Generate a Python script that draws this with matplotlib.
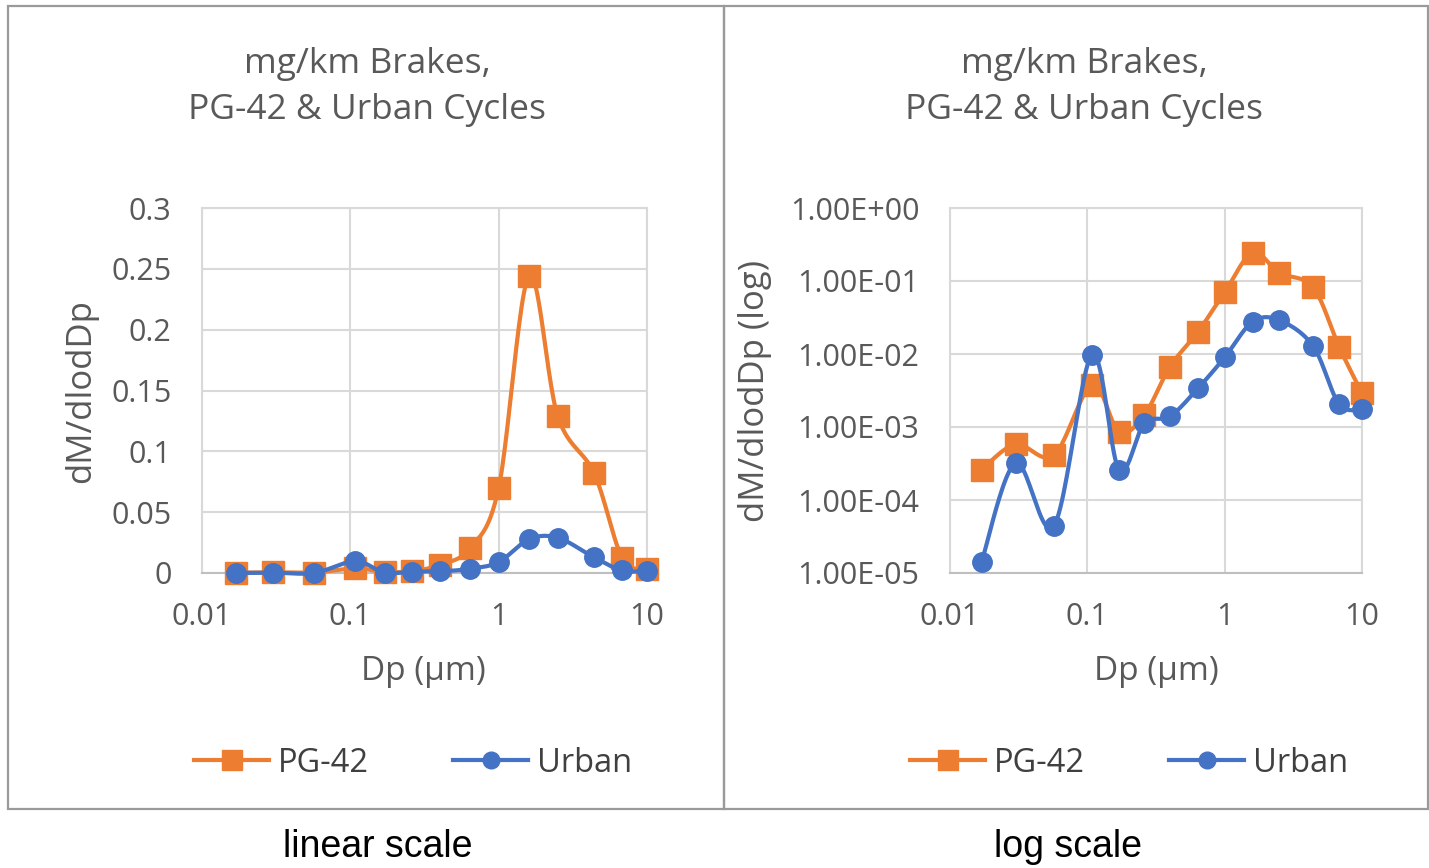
import numpy as np
import matplotlib
matplotlib.use("Agg")
import matplotlib.pyplot as plt
from matplotlib.patches import Rectangle
from matplotlib.lines import Line2D

# ---------------- data ----------------
dp = [0.017, 0.030, 0.057, 0.108, 0.17, 0.26, 0.40, 0.64, 1.0, 1.6, 2.5, 4.4, 6.8, 10.0]
pg42 = [2.6e-4, 5.8e-4, 4.1e-4, 3.8e-3, 8.6e-4, 1.46e-3, 6.7e-3, 2.02e-2, 7.0e-2, 0.244, 0.129, 0.082, 1.26e-2, 2.9e-3]
urban = [1.43e-5, 3.2e-4, 4.4e-5, 9.7e-3, 2.6e-4, 1.12e-3, 1.4e-3, 3.4e-3, 9.0e-3, 2.77e-2, 2.9e-2, 1.29e-2, 2.07e-3, 1.75e-3]
series_names = ["PG-42", "Urban"]
lin_yticks = [0, 0.05, 0.1, 0.15, 0.2, 0.25, 0.3]
lin_yticklabels = ["0", "0.05", "0.1", "0.15", "0.2", "0.25", "0.3"]
log_yticks = [1e-5, 1e-4, 1e-3, 1e-2, 1e-1, 1e0]
log_yticklabels = ["1.00E-05", "1.00E-04", "1.00E-03", "1.00E-02", "1.00E-01", "1.00E+00"]
xticks = [0.01, 0.1, 1, 10]
xticklabels = ["0.01", "0.1", "1", "10"]
title = "mg/km Brakes,\nPG-42 & Urban Cycles"

ORANGE = "#ED7D31"
BLUE = "#4472C4"
GRAY = "#595959"
GRID = "#D9D9D9"
FONT = ["Open Sans", "DejaVu Sans"]

plt.rcParams["font.family"] = FONT

W, H = 1429, 868
fig = plt.figure(figsize=(W / 100, H / 100), dpi=100)


def catmull(u, v, n=24):
    u = np.asarray(u, float)
    v = np.asarray(v, float)
    P = np.column_stack([u, v])
    P = np.vstack([P[0], P, P[-1]])
    out = []
    for i in range(1, len(P) - 2):
        p0, p1, p2, p3 = P[i - 1], P[i], P[i + 1], P[i + 2]
        c1 = p1 + (p2 - p0) / 6.0
        c2 = p2 - (p3 - p1) / 6.0
        t = np.linspace(0, 1, n, endpoint=(i == len(P) - 3))[:, None]
        seg = ((1 - t) ** 3) * p1 + 3 * ((1 - t) ** 2) * t * c1 + 3 * (1 - t) * t ** 2 * c2 + t ** 3 * p2
        out.append(seg)
    out = np.vstack(out)
    return out[:, 0], out[:, 1]


def smooth_line(ax, x, y, logy, **kw):
    lx = np.log10(x)
    yy = np.log10(y) if logy else np.asarray(y)
    su, sv = catmull(lx, yy)
    sx = 10 ** su
    sy = 10 ** sv if logy else sv
    ax.plot(sx, sy, **kw)


def fx(px):
    return px / W


def fy(py):
    return 1 - py / H


def setup(ax, logy):
    ax.set_xscale("log")
    ax.set_xlim(0.01, 10)
    if logy:
        ax.set_yscale("log")
        ax.set_ylim(1e-5, 1)
        ax.set_yticks(log_yticks)
        ax.set_yticklabels(log_yticklabels)
    else:
        ax.set_ylim(0, 0.3)
        ax.set_yticks(lin_yticks)
        ax.set_yticklabels(lin_yticklabels)
    ax.minorticks_off()
    ax.set_xticks(xticks)
    ax.set_xticklabels(xticklabels)
    ax.tick_params(length=0, labelsize=22, labelcolor=GRAY)
    ax.tick_params(axis="x", pad=21)
    ax.tick_params(axis="y", pad=22)
    ax.grid(True, color=GRID, lw=1.5)
    ax.set_axisbelow(True)
    for s in ax.spines.values():
        s.set_color(GRID)
        s.set_linewidth(1.5)
    ax.spines["bottom"].set_color("#BFBFBF")


def draw(ax, logy):
    smooth_line(ax, dp, pg42, logy, color=ORANGE, lw=3, solid_capstyle="round", zorder=3, clip_on=False)
    ax.plot(dp, pg42, ls="none", marker="s", ms=16, color=ORANGE, zorder=4, clip_on=False)
    smooth_line(ax, dp, urban, logy, color=BLUE, lw=3, solid_capstyle="round", zorder=5, clip_on=False)
    ax.plot(dp, urban, ls="none", marker="o", ms=14, color=BLUE, zorder=6, clip_on=False)


# panel borders
fig.add_artist(Rectangle((fx(8), fy(809)), fx(724) - fx(8), fy(6) - fy(809), transform=fig.transFigure,
                         fill=False, ec="#9A9A9A", lw=1.6))
fig.add_artist(Rectangle((fx(724), fy(809)), fx(1428) - fx(724), fy(6) - fy(809), transform=fig.transFigure,
                         fill=False, ec="#9A9A9A", lw=1.6))

# axes
ax1 = fig.add_axes([fx(202), fy(573), fx(647) - fx(202), fy(208) - fy(573)])
ax2 = fig.add_axes([fx(950), fy(573), fx(1362) - fx(950), fy(208) - fy(573)])
setup(ax1, False)
setup(ax2, True)
draw(ax1, False)
draw(ax2, True)

# titles
for cx in (367, 1084):
    fig.text(fx(cx), fy(87), title, ha="center", va="center", fontsize=25.5, color=GRAY, linespacing=1.45)

# axis labels
fig.text(fx(423), fy(672), "Dp (µm)", ha="center", va="center", fontsize=24, color=GRAY)
fig.text(fx(1156), fy(672), "Dp (µm)", ha="center", va="center", fontsize=24, color=GRAY)
fig.text(fx(81), fy(391), "dM/dlodDp", ha="center", va="center", rotation=90, fontsize=25, color=GRAY)
fig.text(fx(755), fy(391), "dM/dlodDp (log)", ha="center", va="center", rotation=90, fontsize=25, color=GRAY)

# legends
handles = [
    Line2D([], [], color=ORANGE, lw=3, marker="s", ms=15),
    Line2D([], [], color=BLUE, lw=3, marker="o", ms=12),
]
for cx in (413, 1129):
    fig.legend(handles, series_names, loc="center", bbox_to_anchor=(fx(cx), fy(763)), ncol=2,
               frameon=False, fontsize=23.5, handlelength=2.3, handletextpad=0.25, columnspacing=2.6,
               labelcolor="#404040", borderpad=0)

# captions
fig.text(fx(378), fy(847), "linear scale", ha="center", va="center", fontsize=27, color="black",
         family=["Liberation Sans", "DejaVu Sans"])
fig.text(fx(1068), fy(847), "log scale", ha="center", va="center", fontsize=27, color="black",
         family=["Liberation Sans", "DejaVu Sans"])

fig.savefig("out.png", dpi=100)
